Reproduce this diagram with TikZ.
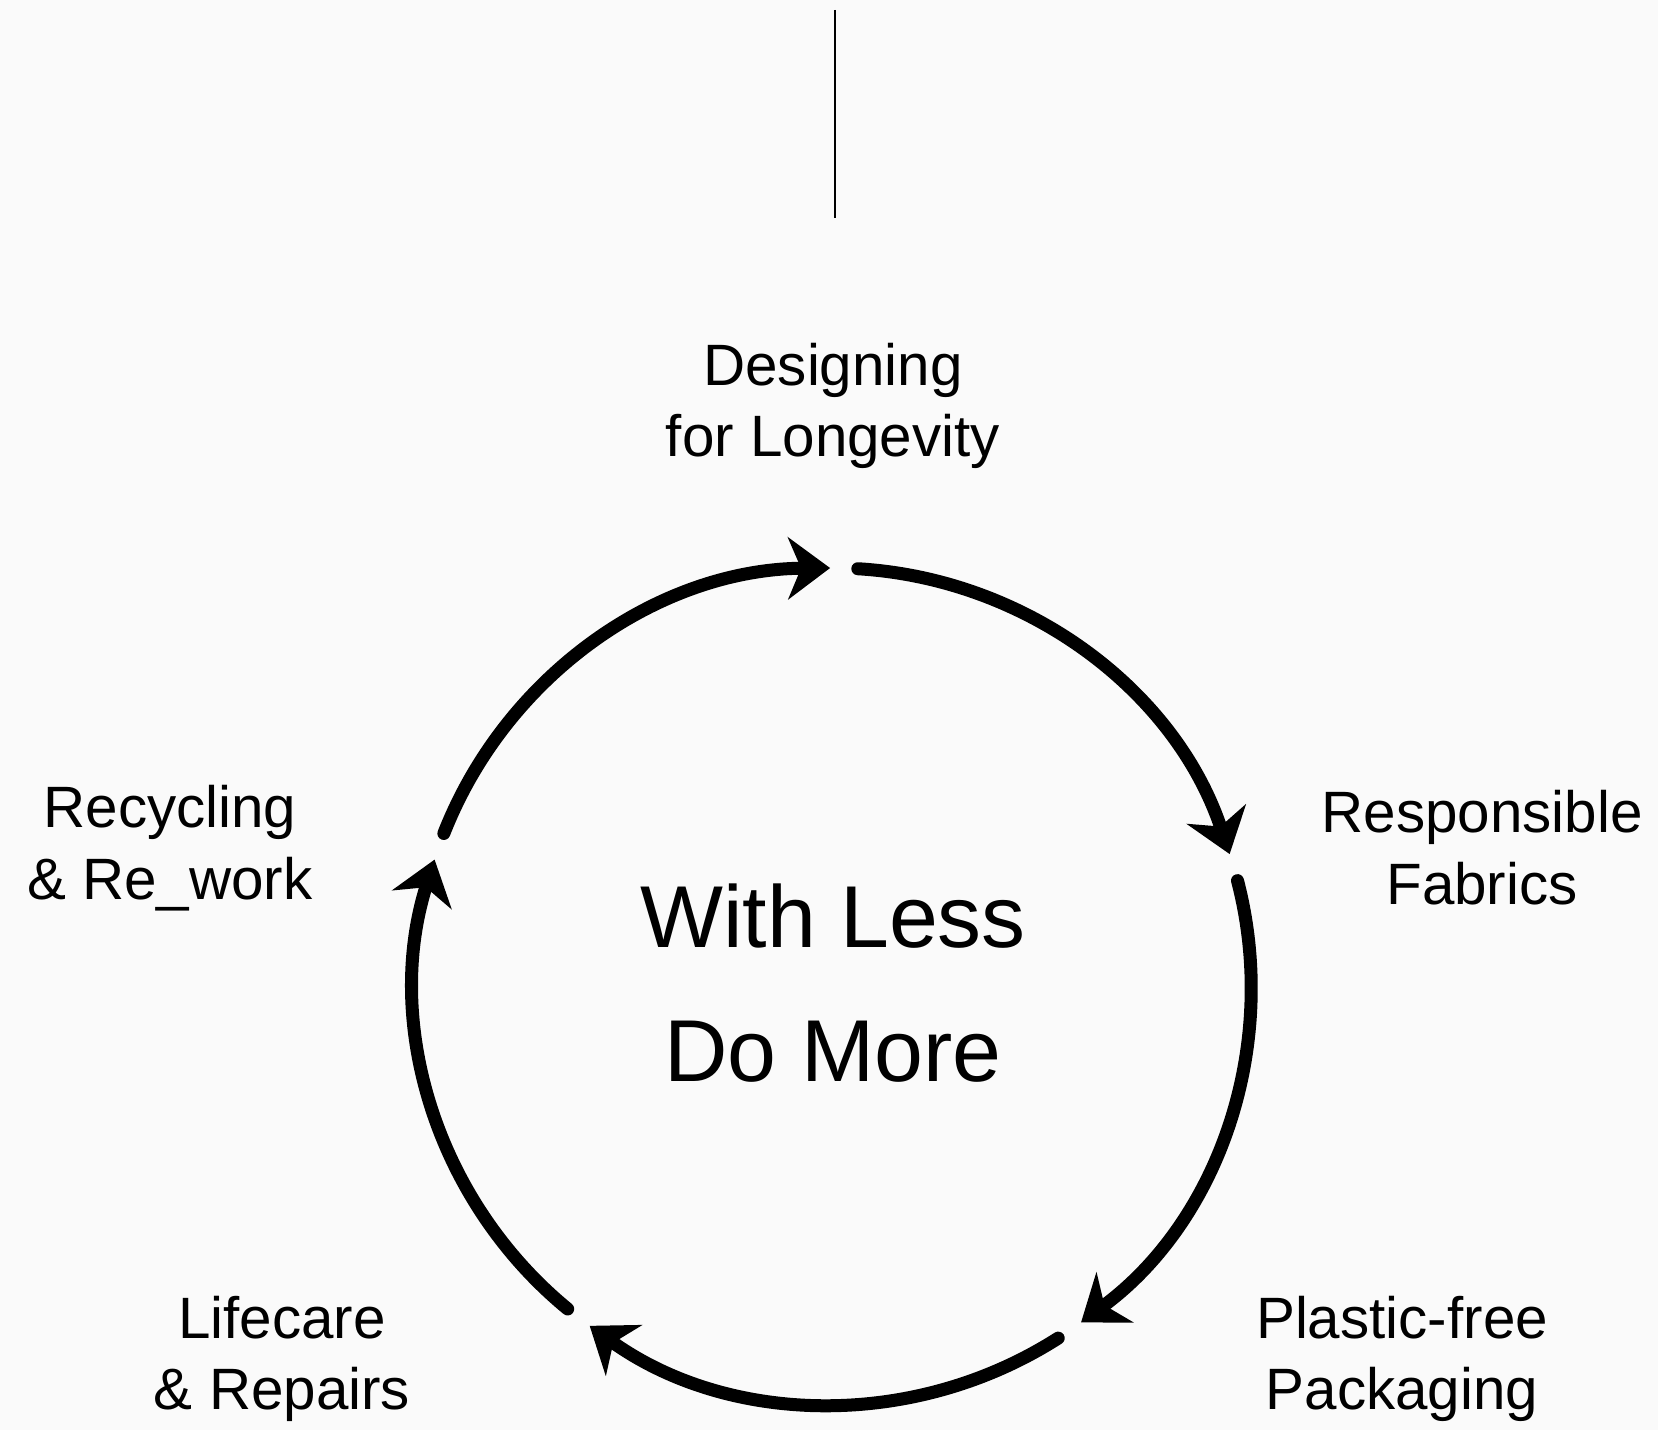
\documentclass[tikz,border=0pt]{standalone}
\usepackage{fontspec}
\setmainfont{Liberation Sans}
\usetikzlibrary{arrows.meta}
\definecolor{pagebg}{RGB}{250,250,250}
\tikzset{
  cyclearrow/.style={line width=3.7pt, line cap=round,
    -{Stealth[length=0.42cm, width=0.62cm, inset=0.13cm]}},
  steplabel/.style={font=\fontsize{16.6}{20.4}\selectfont, align=center},
  hublabel/.style={font=\fontsize{25}{38}\selectfont, align=center},
}
\begin{document}
\begin{tikzpicture}
  % Page and background
  \fill[pagebg] (0,0) rectangle (16.58,14.30);
  \useasboundingbox (0,0) rectangle (16.58,14.30);

  % Top rule
  \coordinate (ruletop) at (8.35,14.20);
  \coordinate (rulebot) at (8.35,12.12);
  \draw[line width=0.65pt] (ruletop) -- (rulebot);

  % Centre of the cycle
  \coordinate (hub) at (8.33,4.44);
  \node[hublabel] (core) at (8.33,4.47) {With Less\\Do More};

  % Stage labels
  \node[steplabel] (design) at (8.33,10.24) {Designing\\for Longevity};
  \node[steplabel] (fabric) at (14.82,5.82) {Responsible\\Fabrics};
  \node[steplabel] (pack) at (14.02,0.71) {Plastic-free\\Packaging};
  \node[steplabel] (care) at (2.82,0.71) {Lifecare\\\& Repairs};
  \node[steplabel] (recycle) at (1.70,5.82) {Recycling\\\& Re\_work};

  % Cycle arrows, clockwise
  \foreach \i in {0,...,4} {
    \pgfmathsetmacro{\sa}{158.6-72*\i}
    \pgfmathsetmacro{\ea}{\sa-68.2}
    \draw[cyclearrow] (hub) ++(\sa:4.18) arc[start angle=\sa, end angle=\ea, radius=4.18];
  }

\end{tikzpicture}
\end{document}
